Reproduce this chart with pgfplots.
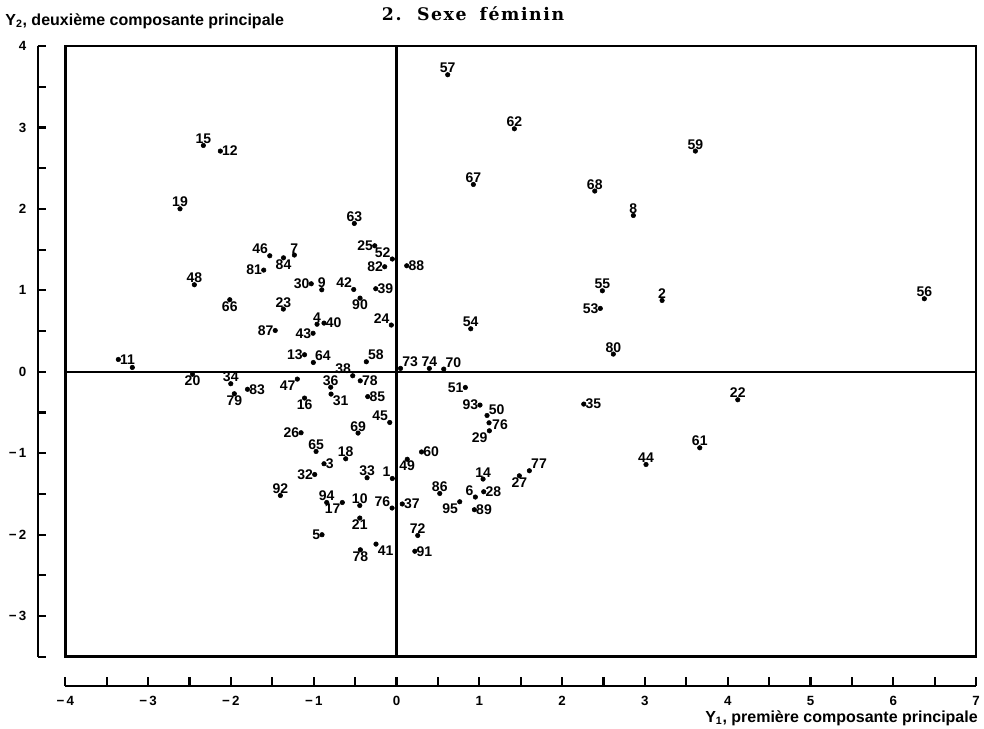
\documentclass[border=0pt]{standalone}
\usepackage{fontspec}
\setsansfont{Liberation Sans}
\newfontfamily\titlefont{DejaVu Serif}[LetterSpace=9, WordSpace=1.7]
\usepackage{pgfplots}
\usepackage{pgfplotstable}
\pgfplotsset{compat=1.18}

% points grouped by where their number stands
% label above
\pgfplotstableread{
x y lab
-2.333 2.780 15
-2.615 2.002 19
-1.234 1.434 7
-2.442 1.069 48
-1.367 0.770 23
-0.960 0.584 4
-2.002 -0.147 34
-0.510 1.822 63
-0.903 1.007 9
0.396 0.041 74
-0.795 -0.190 36
-0.465 -0.753 69
-0.972 -0.979 65
-0.614 -1.069 18
-0.356 -1.302 33
-1.403 -1.520 92
-0.843 -1.606 94
-0.444 -1.643 10
0.256 -2.011 72
1.045 -1.318 14
0.522 -1.495 86
0.618 3.649 57
1.423 2.985 62
3.609 2.711 59
0.928 2.301 67
2.394 2.220 68
2.860 1.920 8
2.486 0.995 55
3.207 0.876 2
0.896 0.528 54
2.618 0.217 80
6.374 0.897 56
4.121 -0.344 22
3.662 -0.934 61
3.013 -1.139 44
}\ptsN
% label below
\pgfplotstableread{
x y lab
-1.365 1.400 84
-2.014 0.885 66
-2.464 -0.031 20
-1.959 -0.270 79
-1.111 -0.323 16
-0.441 0.905 90
-0.444 -1.797 21
-0.437 -2.187 78
1.483 -1.278 27
0.129 -1.075 49
}\ptsS
% label left
\pgfplotstableread{
x y lab
-1.604 1.249 81
-1.030 1.081 30
-1.465 0.507 87
-1.008 0.473 43
-1.111 0.209 13
-0.263 1.548 25
-0.143 1.290 82
-1.153 -0.749 26
-0.988 -1.262 32
-0.900 -2.002 5
0.831 -0.193 51
1.008 -0.409 93
2.461 0.778 53
}\ptsL
% label right
\pgfplotstableread{
x y lab
-2.128 2.711 12
-0.876 0.598 40
-3.360 0.151 11
-1.800 -0.215 83
0.123 1.302 88
-0.251 1.020 39
-0.438 -0.111 78
-0.348 -0.305 85
-0.876 -1.130 3
0.302 -0.985 60
0.069 -1.624 37
0.221 -2.205 91
2.261 -0.397 35
1.053 -1.474 28
0.940 -1.695 89
}\ptsR
% label right, a little raised
\pgfplotstableread{
x y lab
1.093 -0.537 50
}\ptsRu
% label right, a little lowered
\pgfplotstableread{
x y lab
1.117 -0.627 76
}\ptsRd
% label above left
\pgfplotstableread{
x y lab
-1.531 1.425 46
-0.051 1.385 52
-0.517 1.011 42
-0.063 0.574 24
-0.529 -0.049 38
-0.082 -0.623 45
-0.051 -1.311 1
-0.054 -1.674 76
0.952 -1.539 6
}\ptsAL
% label above right
\pgfplotstableread{
x y lab
-1.005 0.114 64
-0.365 0.123 58
0.048 0.041 73
0.570 0.033 70
1.604 -1.216 77
}\ptsAR
% label below left
\pgfplotstableread{
x y lab
-1.198 -0.090 47
-0.655 -1.606 17
1.121 -0.725 29
0.763 -1.597 95
}\ptsBL
% label below right
\pgfplotstableread{
x y lab
-0.791 -0.274 31
-0.248 -2.117 41
}\ptsBR

\pgfplotsset{
  dots/.style={only marks, mark=*, mark size=1.7pt, black,
    nodes near coords, point meta=explicit symbolic,
    every node near coord/.append style={anchor=#1, inner sep=1.2pt,
      font=\sffamily\bfseries\fontsize{10.5}{11}\selectfont}},
}

\begin{document}
\begin{tikzpicture}
\useasboundingbox (-49pt,-54.2pt) rectangle (689pt,492.5pt);

% main frame with the points
\begin{axis}[at={(0pt,0pt)}, anchor=south west,
  x=62.1pt, y=61.05pt,
  xmin=-4, xmax=7, ymin=-3.5, ymax=4,
  xtick=\empty, ytick=\empty,
  axis line style={line width=1.8pt},
  clip=false]
\draw[line width=1.8pt] (axis cs:0,-3.5) -- (axis cs:0,4);
\draw[line width=1.8pt] (axis cs:-4,0) -- (axis cs:7,0);
\addplot[dots=south] table[x=x, y=y, meta=lab] {\ptsN};
\addplot[dots=north] table[x=x, y=y, meta=lab] {\ptsS};
\addplot[dots=east] table[x=x, y=y, meta=lab] {\ptsL};
\addplot[dots=west] table[x=x, y=y, meta=lab] {\ptsR};
\addplot[dots=west, every node near coord/.append style={yshift=4pt}]
  table[x=x, y=y, meta=lab] {\ptsRu};
\addplot[dots=west, every node near coord/.append style={yshift=-1.5pt, xshift=1pt}]
  table[x=x, y=y, meta=lab] {\ptsRd};
\addplot[dots=south east] table[x=x, y=y, meta=lab] {\ptsAL};
\addplot[dots=south west] table[x=x, y=y, meta=lab] {\ptsAR};
\addplot[dots=north east] table[x=x, y=y, meta=lab] {\ptsBL};
\addplot[dots=north west] table[x=x, y=y, meta=lab] {\ptsBR};
\addplot[only marks, mark=*, mark size=1.7pt, black] coordinates {(-3.191,0.053)};
\end{axis}

% left scale
\begin{axis}[at={(-20.7pt,0pt)}, anchor=south west,
  x=1pt, y=61.05pt,
  xmin=0, xmax=1, ymin=-3.5, ymax=4,
  axis y line=left, axis x line=none,
  axis line style={line width=1.8pt, -},
  ytick={-3,...,4}, minor ytick={-3.5,-2.5,...,3.5},
  yticklabels={{−\,3},{−\,2},{−\,1},0,1,2,3,4},
  tick align=inside, major tick length=6.5pt, minor tick length=6.5pt,
  every tick/.style={line width=1.6pt, black},
  yticklabel style={font=\sffamily\bfseries\fontsize{10}{11}\selectfont, xshift=-5pt}]
\addplot[draw=none] coordinates {(0,0)};
\end{axis}

% bottom scale
\begin{axis}[at={(0pt,-22pt)}, anchor=south west,
  x=62.1pt, y=1pt,
  xmin=-4, xmax=7, ymin=0, ymax=1,
  axis x line=bottom, axis y line=none,
  axis line style={line width=1.8pt, -},
  xtick={-4,...,7}, minor xtick={-3.5,-2.5,...,6.5},
  xticklabels={{−\,4},{−\,3},{−\,2},{−\,1},0,1,2,3,4,5,6,7},
  tick align=inside, major tick length=6.5pt, minor tick length=6.5pt,
  every tick/.style={line width=1.6pt, black},
  xticklabel style={font=\sffamily\bfseries\fontsize{10}{11}\selectfont, yshift=-4pt}]
\addplot[draw=none] coordinates {(0,0.5)};
\end{axis}

\node[anchor=base, inner sep=0pt, font=\titlefont\bfseries\fontsize{13}{15}\selectfont]
  at (305.8pt,476.8pt) {2. Sexe féminin};
\node[anchor=west, inner sep=0pt, font=\sffamily\bfseries\fontsize{12}{14}\selectfont]
  at (-45.2pt,476.8pt) {Y\textsubscript{2}, deuxième composante principale};
\node[anchor=east, inner sep=0pt, font=\sffamily\bfseries\fontsize{12}{14}\selectfont]
  at (684.5pt,-46pt) {Y\textsubscript{1}, première composante principale};
\end{tikzpicture}
\end{document}
